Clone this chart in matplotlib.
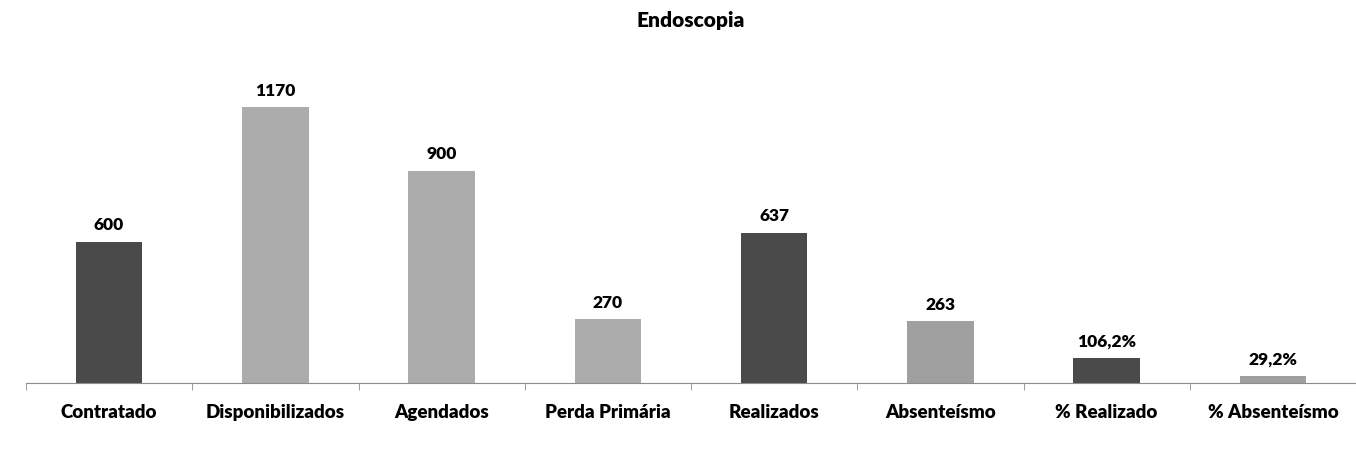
import numpy as np
import matplotlib.pyplot as plt

categorias = ["Contratado", "Disponibilizados", "Agendados", "Perda Primária",
              "Realizados", "Absenteísmo", "% Realizado", "% Absenteísmo"]
valores = [600, 1170, 900, 270, 637, 263, 106.2, 29.2]
rotulos = ["600", "1170", "900", "270", "637", "263", "106,2%", "29,2%"]
cores = ["#4a4a4a", "#acacac", "#acacac", "#acacac",
         "#4a4a4a", "#a0a0a0", "#4a4a4a", "#a0a0a0"]

plt.rcParams['font.family'] = ['Lato', 'DejaVu Sans']

fig = plt.figure(figsize=(13.56, 4.61), dpi=100)
ax = fig.add_axes([26/1356, 78/461, 1330/1356, 323/461])

x = np.arange(len(categorias))
ax.bar(x, valores, width=0.4, color=cores, zorder=2)
for xi, v, r in zip(x, valores, rotulos):
    ax.annotate(r, (xi, v), xytext=(0, 6), textcoords="offset points",
                ha="center", va="bottom", fontsize=12.5, fontweight="heavy")

ax.set_xlim(-0.5, len(categorias) - 0.5)
ax.set_ylim(0, 1370)
ax.set_yticks([])
for s in ["top", "right", "left"]:
    ax.spines[s].set_visible(False)
ax.spines["bottom"].set_color("#8c8c8c")

ax.set_xticks(x)
ax.set_xticklabels(categorias, fontsize=13.5, fontweight="heavy")
ax.tick_params(axis="x", which="major", length=0, pad=15)
ax.set_xticks(np.arange(-0.5, len(categorias)), minor=True)
ax.tick_params(axis="x", which="minor", length=5, color="#8c8c8c")

fig.text(0.5 + 13/1356, 1 - 21/461, "Endoscopia", ha="center", va="center",
         fontsize=15, fontweight="heavy")

fig.savefig("out.png", dpi=100)
